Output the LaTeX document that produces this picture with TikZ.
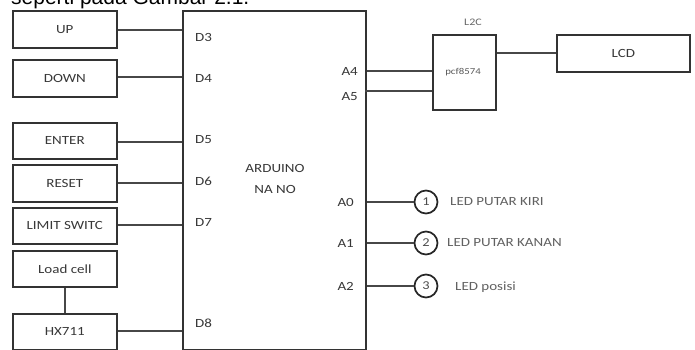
\documentclass[tikz,border=0pt]{standalone}
\usepackage{fontspec}
\setmainfont[FakeStretch=1.2]{Carlito}
\newfontfamily\topfont{Liberation Sans}
\begin{document}
\begin{tikzpicture}[x=1pt,y=-1pt,
  box/.style={draw=black!80,line width=1.6pt,fill=white,anchor=north west,inner sep=0pt},
  lbox/.style={box,minimum width=104pt},
  wire/.style={draw=black!72,line width=1.7pt},
  lbl/.style={text=black!78,font=\fontsize{12.5}{14}\selectfont,inner sep=0pt},
  pin/.style={lbl},
  led/.style={text=black!62,font=\fontsize{12.5}{14}\selectfont,inner sep=0pt,anchor=west},
  num/.style={circle,draw=black!85,line width=1.7pt,minimum size=23pt,inner sep=0pt,fill=white,text=black!70,font=\fontsize{12}{14}\selectfont}]
\useasboundingbox (0,0) rectangle (695,349);
\clip (0,0) rectangle (695,349);
\fill[white] (0,0) rectangle (695,349);
% cut-off top line of text
\node[anchor=base west,inner sep=0pt,font=\topfont\fontsize{21}{24}\selectfont] (cap) at (11,4.5) {seperti pada Gambar 2.1.};
% left boxes
\node[lbox,minimum height=37pt,lbl] (up) at (12,10) {UP};
\node[lbox,minimum height=37pt,lbl] (down) at (12,59) {DOWN};
\node[lbox,minimum height=36pt,lbl] (enter) at (12,122) {ENTER};
\node[lbox,minimum height=37pt,lbl] (reset) at (12,164) {RESET};
\node[lbox,minimum height=36pt,lbl] (limit) at (12,207) {LIMIT SWITC};
\node[lbox,minimum height=36pt,lbl] (load) at (12,250) {Load cell};
\node[lbox,minimum height=36pt,lbl] (hx) at (12,313) {HX711};
% arduino
\node[box,minimum width=183pt,minimum height=339pt] (ard) at (182,10) {};
\node[lbl,align=center] (ardname) at (275,179) {ARDUINO\\[7pt]NA NO};
% left pins
\node[pin,anchor=west] (d3) at (195,37) {D3};
\node[pin,anchor=west] (d4) at (195,78) {D4};
\node[pin,anchor=west] (d5) at (195,140) {D5};
\node[pin,anchor=west] (d6) at (195,181) {D6};
\node[pin,anchor=west] (d7) at (195,222) {D7};
\node[pin,anchor=west] (d8) at (195,323) {D8};
% right pins
\node[pin,anchor=east] (a4) at (358,71) {A4};
\node[pin,anchor=east] (a5) at (358,97) {A5};
\node[pin,anchor=east] (a0) at (354,202) {A0};
\node[pin,anchor=east] (a1) at (354,243) {A1};
\node[pin,anchor=east] (a2) at (354,286) {A2};
\coordinate (p5) at (365,91);
% I2C and LCD
\node[box,minimum width=63pt,minimum height=75pt] (i2c) at (432,34) {};
\node[lbl,text=black!65,font=\fontsize{9}{10}\selectfont] (i2cchip) at (463,72) {pcf8574};
\node[lbl,text=black!60,font=\fontsize{10}{11}\selectfont] (i2cname) at (473,22) {L2C};
\node[box,minimum width=133pt,minimum height=37pt,lbl] (lcd) at (556,34) {LCD};
% LEDs
\node[num] (c1) at (426,202) {1};
\node[num] (c2) at (426,243) {2};
\node[num] (c3) at (426,286) {3};
\node[led] (t1) at (450,202) {LED PUTAR KIRI};
\node[led] (t2) at (447,243) {LED PUTAR KANAN};
\node[led] (t3) at (455,287) {LED posisi};
% connectors
\draw[wire] (up.east |- 0,30) -- (ard.west |- 0,30);
\draw[wire] (down.east |- 0,77) -- (ard.west |- 0,77);
\draw[wire] (enter.east |- 0,142) -- (ard.west |- 0,142);
\draw[wire] (reset.east |- 0,183) -- (ard.west |- 0,183);
\draw[wire] (limit.east |- 0,225) -- (ard.west |- 0,225);
\draw[wire] (hx.east |- 0,331) -- (ard.west |- 0,331);
\draw[wire] (load.south) -- (hx.north);
\draw[wire] (ard.east |- a4) -- (i2c.west |- a4);
\draw[wire] (p5) -- (i2c.west |- p5);
\draw[wire] (i2c.east |- lcd) -- (lcd.west);
\draw[wire] (ard.east |- c1) -- (c1.west);
\draw[wire] (ard.east |- c2) -- (c2.west);
\draw[wire] (ard.east |- c3) -- (c3.west);
\end{tikzpicture}
\end{document}
